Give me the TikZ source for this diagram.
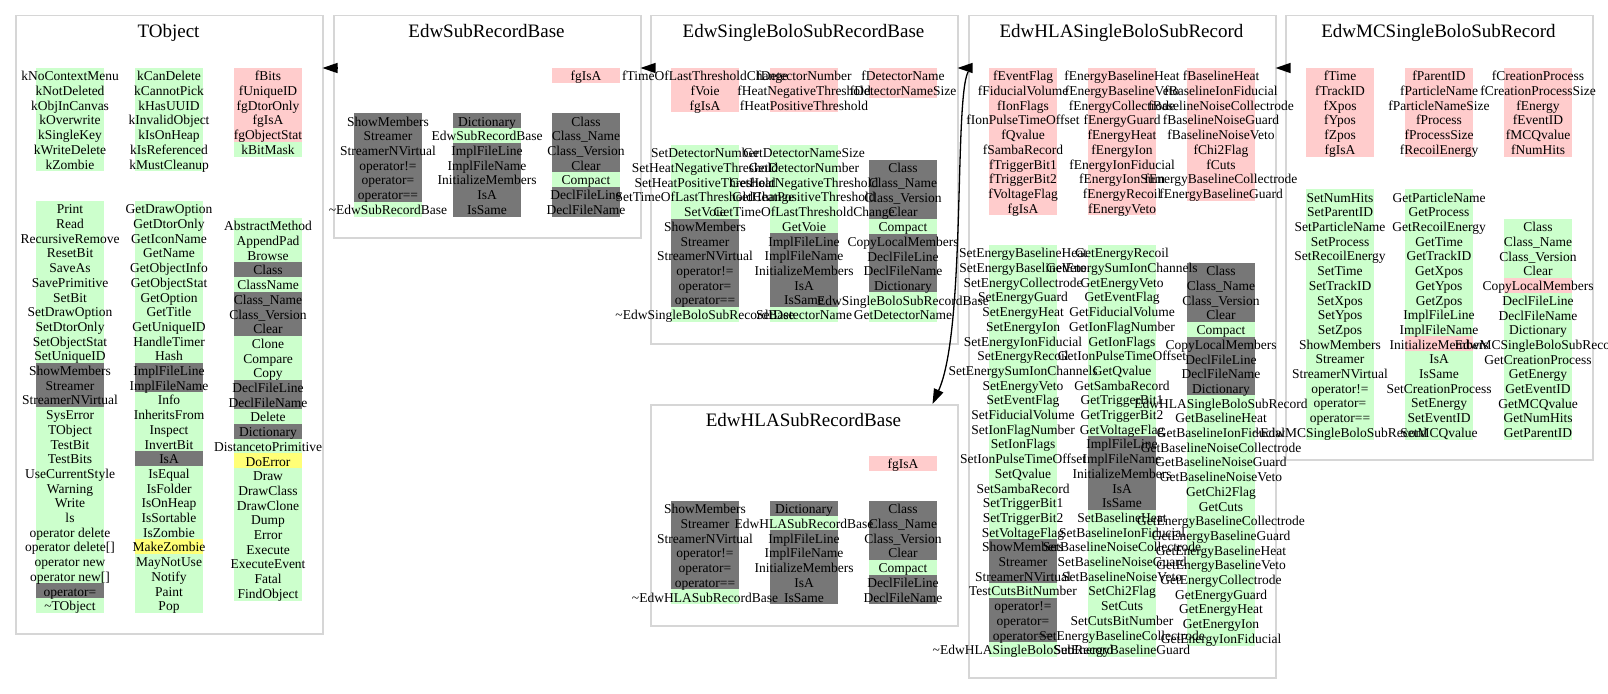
\documentclass[tikz,border=0pt]{standalone}
\usepackage{fontspec}
\setmainfont{Liberation Serif}
\usetikzlibrary{arrows.meta,calc}
\definecolor{cG}{RGB}{204,255,204}
\definecolor{cP}{RGB}{255,204,204}
\definecolor{cD}{RGB}{119,119,119}
\definecolor{cY}{RGB}{255,255,119}
\definecolor{cB}{RGB}{214,214,214}
\tikzset{
  mem/.style={anchor=base, inner sep=0pt, font=\fontsize{13.5}{15}\selectfont},
  ttl/.style={anchor=base, inner sep=0pt, font=\fontsize{19}{22}\selectfont},
  clu/.style={draw=cB, line width=1.5pt, rectangle, inner sep=0pt, anchor=north west, minimum width=307pt},
  inh/.style={-{Triangle[length=15pt,width=10pt]}, line width=1.3pt, black},
}
\newif\ifcolfill
\newcommand\mcol[4]{%
  \foreach[count=\i from 0] \c/\t in {#4}{%
    \ifcolfill
      \fill[fill=\c] ({#2-34},{#3+\i*14.7}) rectangle ({#2+34},{#3+\i*14.7+15});
    \else
      \node[mem] (#1-\i) at ({#2},{#3+\i*14.7+12.8}) {\t};
    \fi
  }%
}
\newcommand\allcolumns{%
% ---------------- TObject
\mcol{tobj-d1}{70}{68}{cG/kNoContextMenu,cG/kNotDeleted,cG/kObjInCanvas,cG/kOverwrite,cG/kSingleKey,cG/kWriteDelete,cG/kZombie}
\mcol{tobj-d2}{169}{68}{cG/kCanDelete,cG/kCannotPick,cG/kHasUUID,cG/kInvalidObject,cG/kIsOnHeap,cG/kIsReferenced,cG/kMustCleanup}
\mcol{tobj-d3}{268}{68}{cP/fBits,cP/fUniqueID,cP/fgDtorOnly,cP/fgIsA,cP/fgObjectStat,cG/kBitMask}
\mcol{tobj-m1}{70}{201}{cG/Print,cG/Read,cG/RecursiveRemove,cG/ResetBit,cG/SaveAs,cG/SavePrimitive,cG/SetBit,cG/SetDrawOption,cG/SetDtorOnly,cG/SetObjectStat,cG/SetUniqueID,cD/ShowMembers,cD/Streamer,cD/StreamerNVirtual,cG/SysError,cG/TObject,cG/TestBit,cG/TestBits,cG/UseCurrentStyle,cG/Warning,cG/Write,cG/ls,cG/{operator delete},cG/{operator delete[]},cG/{operator new},cG/{operator new[]},cD/{operator=},cG/{\textasciitilde TObject}}
\mcol{tobj-m2}{169}{201}{cG/GetDrawOption,cG/GetDtorOnly,cG/GetIconName,cG/GetName,cG/GetObjectInfo,cG/GetObjectStat,cG/GetOption,cG/GetTitle,cG/GetUniqueID,cG/HandleTimer,cG/Hash,cD/ImplFileLine,cD/ImplFileName,cG/Info,cG/InheritsFrom,cG/Inspect,cG/InvertBit,cD/IsA,cG/IsEqual,cG/IsFolder,cG/IsOnHeap,cG/IsSortable,cG/IsZombie,cY/MakeZombie,cG/MayNotUse,cG/Notify,cG/Paint,cG/Pop}
\mcol{tobj-m3}{268}{218}{cG/AbstractMethod,cG/AppendPad,cG/Browse,cD/Class,cG/ClassName,cD/{Class\_Name},cD/{Class\_Version},cD/Clear,cG/Clone,cG/Compare,cG/Copy,cD/DeclFileLine,cD/DeclFileName,cG/Delete,cD/Dictionary,cG/DistancetoPrimitive,cY/DoError,cG/Draw,cG/DrawClass,cG/DrawClone,cG/Dump,cG/Error,cG/Execute,cG/ExecuteEvent,cG/Fatal,cG/FindObject}
% ---------------- EdwSubRecordBase
\mcol{sub-d3}{586}{68}{cP/fgIsA}
\mcol{sub-m1}{388}{113.3}{cD/ShowMembers,cD/Streamer,cD/StreamerNVirtual,cD/{operator!=},cD/{operator=},cD/{operator==},cG/{\textasciitilde EdwSubRecordBase}}
\mcol{sub-m2}{487}{113.3}{cD/Dictionary,cG/EdwSubRecordBase,cD/ImplFileLine,cD/ImplFileName,cD/InitializeMembers,cD/IsA,cD/IsSame}
\mcol{sub-m3}{586}{113.3}{cD/Class,cD/{Class\_Name},cD/{Class\_Version},cD/Clear,cG/Compact,cD/DeclFileLine,cD/DeclFileName}
% ---------------- EdwSingleBoloSubRecordBase
\mcol{sbolo-d1}{705}{68}{cP/fTimeOfLastThresholdChange,cP/fVoie,cP/fgIsA}
\mcol{sbolo-d2}{804}{68}{cP/fDetectorNumber,cP/fHeatNegativeThreshold,cP/fHeatPositiveThreshold}
\mcol{sbolo-d3}{903}{68}{cP/fDetectorName,cP/fDetectorNameSize}
\mcol{sbolo-m1}{705}{145}{cG/SetDetectorNumber,cG/SetHeatNegativeThreshold,cG/SetHeatPositiveThreshold,cG/SetTimeOfLastThresholdChange,cG/SetVoie,cD/ShowMembers,cD/Streamer,cD/StreamerNVirtual,cD/{operator!=},cD/{operator=},cD/{operator==},cG/{\textasciitilde EdwSingleBoloSubRecordBase}}
\mcol{sbolo-m2}{804}{145}{cG/GetDetectorNameSize,cG/GetDetectorNumber,cG/GetHeatNegativeThreshold,cG/GetHeatPositiveThreshold,cG/GetTimeOfLastThresholdChange,cG/GetVoie,cD/ImplFileLine,cD/ImplFileName,cD/InitializeMembers,cD/IsA,cD/IsSame,cG/SetDetectorName}
\mcol{sbolo-m3}{903}{160}{cD/Class,cD/{Class\_Name},cD/{Class\_Version},cD/Clear,cG/Compact,cD/CopyLocalMembers,cD/DeclFileLine,cD/DeclFileName,cD/Dictionary,cG/EdwSingleBoloSubRecordBase,cG/GetDetectorName}
% ---------------- EdwHLASingleBoloSubRecord
\mcol{hla-d1}{1023}{68}{cP/fEventFlag,cP/fFiducialVolume,cP/fIonFlags,cP/fIonPulseTimeOffset,cP/fQvalue,cP/fSambaRecord,cP/fTriggerBit1,cP/fTriggerBit2,cP/fVoltageFlag,cP/fgIsA}
\mcol{hla-d2}{1122}{68}{cP/fEnergyBaselineHeat,cP/fEnergyBaselineVeto,cP/fEnergyCollectrode,cP/fEnergyGuard,cP/fEnergyHeat,cP/fEnergyIon,cP/fEnergyIonFiducial,cP/fEnergyIonSum,cP/fEnergyRecoil,cP/fEnergyVeto}
\mcol{hla-d3}{1221}{68}{cP/fBaselineHeat,cP/fBaselineIonFiducial,cP/fBaselineNoiseCollectrode,cP/fBaselineNoiseGuard,cP/fBaselineNoiseVeto,cP/fChi2Flag,cP/fCuts,cP/fEnergyBaselineCollectrode,cP/fEnergyBaselineGuard}
\mcol{hla-m1}{1023}{245}{cG/SetEnergyBaselineHeat,cG/SetEnergyBaselineVeto,cG/SetEnergyCollectrode,cG/SetEnergyGuard,cG/SetEnergyHeat,cG/SetEnergyIon,cG/SetEnergyIonFiducial,cG/SetEnergyRecoil,cG/SetEnergySumIonChannels,cG/SetEnergyVeto,cG/SetEventFlag,cG/SetFiducialVolume,cG/SetIonFlagNumber,cG/SetIonFlags,cG/SetIonPulseTimeOffset,cG/SetQvalue,cG/SetSambaRecord,cG/SetTriggerBit1,cG/SetTriggerBit2,cG/SetVoltageFlag,cD/ShowMembers,cD/Streamer,cD/StreamerNVirtual,cG/TestCutsBitNumber,cD/{operator!=},cD/{operator=},cD/{operator==},cG/{\textasciitilde EdwHLASingleBoloSubRecord}}
\mcol{hla-m2}{1122}{245}{cG/GetEnergyRecoil,cG/GetEnergySumIonChannels,cG/GetEnergyVeto,cG/GetEventFlag,cG/GetFiducialVolume,cG/GetIonFlagNumber,cG/GetIonFlags,cG/GetIonPulseTimeOffset,cG/GetQvalue,cG/GetSambaRecord,cG/GetTriggerBit1,cG/GetTriggerBit2,cG/GetVoltageFlag,cD/ImplFileLine,cD/ImplFileName,cD/InitializeMembers,cD/IsA,cD/IsSame,cG/SetBaselineHeat,cG/SetBaselineIonFiducial,cG/SetBaselineNoiseCollectrode,cG/SetBaselineNoiseGuard,cG/SetBaselineNoiseVeto,cG/SetChi2Flag,cG/SetCuts,cG/SetCutsBitNumber,cG/SetEnergyBaselineCollectrode,cG/SetEnergyBaselineGuard}
\mcol{hla-m3}{1221}{263}{cD/Class,cD/{Class\_Name},cD/{Class\_Version},cD/Clear,cG/Compact,cD/CopyLocalMembers,cD/DeclFileLine,cD/DeclFileName,cD/Dictionary,cG/EdwHLASingleBoloSubRecord,cG/GetBaselineHeat,cG/GetBaselineIonFiducial,cG/GetBaselineNoiseCollectrode,cG/GetBaselineNoiseGuard,cG/GetBaselineNoiseVeto,cG/GetChi2Flag,cG/GetCuts,cG/GetEnergyBaselineCollectrode,cG/GetEnergyBaselineGuard,cG/GetEnergyBaselineHeat,cG/GetEnergyBaselineVeto,cG/GetEnergyCollectrode,cG/GetEnergyGuard,cG/GetEnergyHeat,cG/GetEnergyIon,cG/GetEnergyIonFiducial}
% ---------------- EdwMCSingleBoloSubRecord
\mcol{mc-d1}{1340}{68}{cP/fTime,cP/fTrackID,cP/fXpos,cP/fYpos,cP/fZpos,cP/fgIsA}
\mcol{mc-d2}{1439}{68}{cP/fParentID,cP/fParticleName,cP/fParticleNameSize,cP/fProcess,cP/fProcessSize,cP/fRecoilEnergy}
\mcol{mc-d3}{1538}{68}{cP/fCreationProcess,cP/fCreationProcessSize,cP/fEnergy,cP/fEventID,cP/fMCQvalue,cP/fNumHits}
\mcol{mc-m1}{1340}{189.3}{cG/SetNumHits,cG/SetParentID,cG/SetParticleName,cG/SetProcess,cG/SetRecoilEnergy,cG/SetTime,cG/SetTrackID,cG/SetXpos,cG/SetYpos,cG/SetZpos,cG/ShowMembers,cG/Streamer,cG/StreamerNVirtual,cG/{operator!=},cG/{operator=},cG/{operator==},cG/{\textasciitilde EdwMCSingleBoloSubRecord}}
\mcol{mc-m2}{1439}{189.3}{cG/GetParticleName,cG/GetProcess,cG/GetRecoilEnergy,cG/GetTime,cG/GetTrackID,cG/GetXpos,cG/GetYpos,cG/GetZpos,cG/ImplFileLine,cG/ImplFileName,cP/InitializeMembers,cG/IsA,cG/IsSame,cG/SetCreationProcess,cG/SetEnergy,cG/SetEventID,cG/SetMCQvalue}
\mcol{mc-m3}{1538}{219}{cG/Class,cG/{Class\_Name},cG/{Class\_Version},cG/Clear,cP/CopyLocalMembers,cG/DeclFileLine,cG/DeclFileName,cG/Dictionary,cG/EdwMCSingleBoloSubRecord,cG/GetCreationProcess,cG/GetEnergy,cG/GetEventID,cG/GetMCQvalue,cG/GetNumHits,cG/GetParentID}
% ---------------- EdwHLASubRecordBase
\mcol{hlasub-d3}{903}{456}{cP/fgIsA}
\mcol{hlasub-m1}{705}{501}{cD/ShowMembers,cD/Streamer,cD/StreamerNVirtual,cD/{operator!=},cD/{operator=},cD/{operator==},cG/{\textasciitilde EdwHLASubRecordBase}}
\mcol{hlasub-m2}{804}{501}{cD/Dictionary,cG/EdwHLASubRecordBase,cD/ImplFileLine,cD/ImplFileName,cD/InitializeMembers,cD/IsA,cD/IsSame}
\mcol{hlasub-m3}{903}{501}{cD/Class,cD/{Class\_Name},cD/{Class\_Version},cD/Clear,cG/Compact,cD/DeclFileLine,cD/DeclFileName}
}
\begin{document}
\begin{tikzpicture}[x=1pt,y=-1pt]
\useasboundingbox (0,0) rectangle (1608,693);
\coordinate (y68) at (0,68);
% cluster boxes
\node[clu, minimum height=618pt] (tobj) at (15,15) {};
\node[clu, minimum height=222pt] (sub) at (333,15) {};
\node[clu, minimum height=328pt] (sbolo) at (650,15) {};
\node[clu, minimum height=662pt] (hla) at (968,15) {};
\node[clu, minimum height=444pt] (mc) at (1285,15) {};
\node[clu, minimum height=221pt] (hlasub) at (650,404) {};
% titles
\node[ttl] (tobj-t) at (168.5,37.5) {TObject};
\node[ttl] (sub-t) at (486.5,37.5) {EdwSubRecordBase};
\node[ttl] (sbolo-t) at (803.5,37.5) {EdwSingleBoloSubRecordBase};
\node[ttl] (hla-t) at (1121.5,37.5) {EdwHLASingleBoloSubRecord};
\node[ttl] (mc-t) at (1438.5,37.5) {EdwMCSingleBoloSubRecord};
\node[ttl] (hlasub-t) at (803.5,426.5) {EdwHLASubRecordBase};
% member stripes first, then all texts
\colfilltrue
\allcolumns
\colfillfalse
\allcolumns
% ---------------- inheritance edges
\draw[inh] ($(sub.west|-y68)+(4,0)$) -- ($(tobj.east|-y68)+(-1,0)$);
\draw[inh] ($(sbolo.west|-y68)+(4,0)$) -- ($(sub.east|-y68)+(-1,0)$);
\draw[inh] ($(hla.west|-y68)+(3,0)$) -- ($(sbolo.east|-y68)+(-1,0)$);
\draw[inh] ($(mc.west|-y68)+(4,0)$) -- ($(hla.east|-y68)+(-1,0)$);
\draw[inh] ($(hla.west|-y68)+(0,4)$) .. controls (954,100) and (966,330) .. ($(hlasub.north east)+(-26,0)$);
\end{tikzpicture}
\end{document}
